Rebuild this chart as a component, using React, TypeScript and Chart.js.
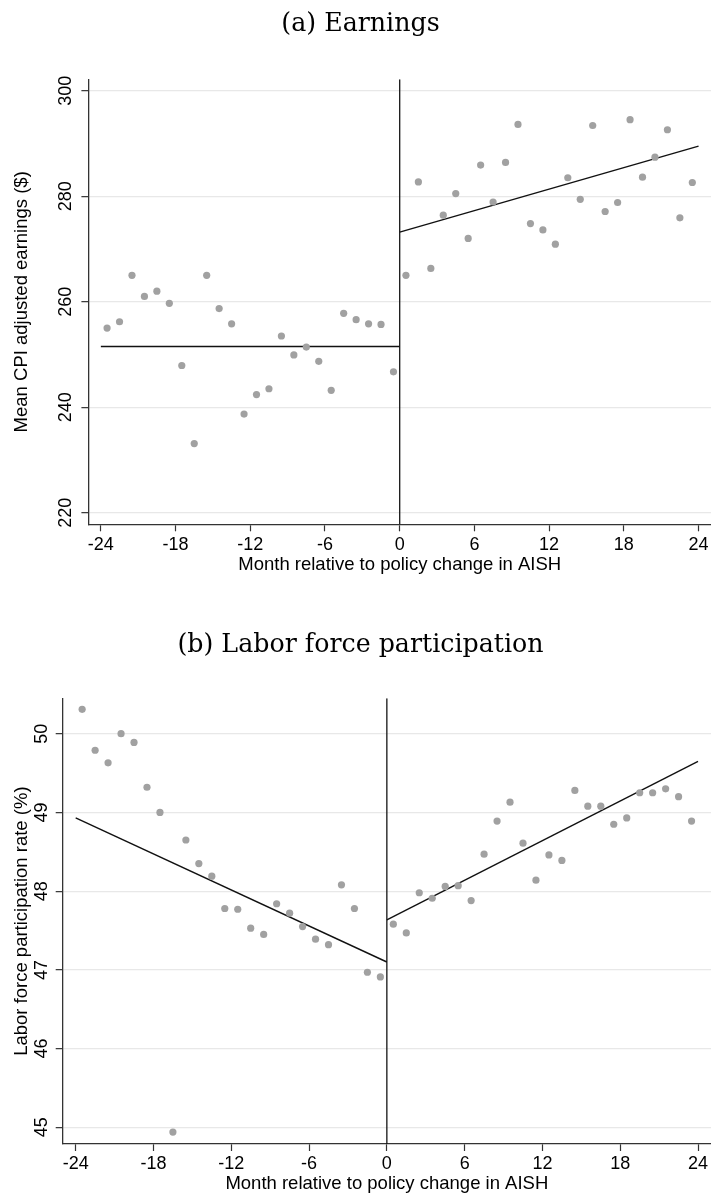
import React, { useEffect, useRef } from 'react';
import { Chart, registerables, ScatterController } from 'chart.js';

Chart.register(...registerables);
// keep the plot flush with the canvas edge (no extra padding for point overflow)
(ScatterController.prototype as any).getMaxOverflow = function () {
  return 0;
};

// ---------- data ----------
const MONTHS = [
  -23.5, -22.5, -21.5, -20.5, -19.5, -18.5, -17.5, -16.5, -15.5, -14.5, -13.5, -12.5,
  -11.5, -10.5, -9.5, -8.5, -7.5, -6.5, -5.5, -4.5, -3.5, -2.5, -1.5, -0.5,
  0.5, 1.5, 2.5, 3.5, 4.5, 5.5, 6.5, 7.5, 8.5, 9.5, 10.5, 11.5,
  12.5, 13.5, 14.5, 15.5, 16.5, 17.5, 18.5, 19.5, 20.5, 21.5, 22.5, 23.5,
];

const EARNINGS = [
  255.0, 256.2, 265.0, 261.0, 262.0, 259.7, 247.9, 233.1, 265.0, 258.7, 255.8, 238.7,
  242.4, 243.5, 253.5, 249.9, 251.4, 248.7, 243.2, 257.8, 256.6, 255.8, 255.7, 246.7,
  265.0, 282.7, 266.3, 276.4, 280.5, 272.0, 285.9, 278.9, 286.4, 293.6, 274.8, 273.6,
  270.9, 283.5, 279.4, 293.4, 277.1, 278.8, 294.5, 283.6, 287.4, 292.6, 275.9, 282.6,
];

const LFP = [
  50.31, 49.79, 49.63, 50.0, 49.89, 49.32, 49.0, 44.94, 48.65, 48.35, 48.19, 47.78,
  47.77, 47.53, 47.45, 47.84, 47.72, 47.55, 47.39, 47.32, 48.08, 47.78, 46.97, 46.91,
  47.58, 47.47, 47.98, 47.91, 48.06, 48.07, 47.88, 48.47, 48.89, 49.13, 48.61, 48.14,
  48.46, 48.39, 49.28, 49.08, 49.08, 48.85, 48.93, 49.25, 49.25, 49.3, 49.2, 48.89,
];

const FIT_PRE_X = [-24, 0];
const FIT_POST_X = [0, 24];
const EARN_FIT_PRE = [251.5, 251.5];
const EARN_FIT_POST = [273.2, 289.5];
const LFP_FIT_PRE = [48.93, 47.1];
const LFP_FIT_POST = [47.635, 49.65];

const X_TICKS = [-24, -18, -12, -6, 0, 6, 12, 18, 24];
const EARN_Y_TICKS = [220, 240, 260, 280, 300];
const LFP_Y_TICKS = [45, 46, 47, 48, 49, 50];

const X_TITLE = 'Month relative to policy change in AISH';
const EARN_TITLE = '(a) Earnings';
const LFP_TITLE = '(b) Labor force participation';
const EARN_Y_TITLE = 'Mean CPI adjusted earnings ($)';
const LFP_Y_TITLE = 'Labor force participation rate (%)';

// ---------- styling ----------
const SANS = "'Liberation Sans', Arial, Helvetica, sans-serif";
const SERIF = "'DejaVu Serif', 'Liberation Serif', serif";
const AXIS_COLOR = '#333333';
const GRID_COLOR = '#e8e8e8';
const POINT_COLOR = '#a1a1a1';
const CANVAS_W = 721;
const VIEW_W = 711;
const PAD_L = 10;

type Spec = {
  title: string;
  yTitle: string;
  values: number[];
  fitPre: number[];
  fitPost: number[];
  yTicks: number[];
  yMin: number;
  yMax: number;
  yWidth: number;
  yTickPad: number;
  xHeight: number;
  xTickPad: number;
  xTitlePad: number;
  titlePadTop: number;
  titlePadBottom: number;
};

function makeConfig(s: Spec): any {
  const pts = MONTHS.map((m, i) => ({ x: m, y: s.values[i] }));
  const pre = FIT_PRE_X.map((m, i) => ({ x: m, y: s.fitPre[i] }));
  const post = FIT_POST_X.map((m, i) => ({ x: m, y: s.fitPost[i] }));
  const vline = [
    { x: 0, y: s.yMin },
    { x: 0, y: s.yMax },
  ];
  return {
    type: 'scatter',
    data: {
      datasets: [
        {
          data: vline,
          showLine: true,
          borderColor: '#151515',
          borderWidth: 1.3,
          pointRadius: 0,
        },
        {
          data: pts,
          showLine: false,
          pointRadius: 3.6,
          pointBackgroundColor: POINT_COLOR,
          pointBorderColor: POINT_COLOR,
          pointBorderWidth: 0,
        },
        {
          data: pre,
          showLine: true,
          borderColor: '#111111',
          borderWidth: 1.4,
          pointRadius: 0,
        },
        {
          data: post,
          showLine: true,
          borderColor: '#111111',
          borderWidth: 1.4,
          pointRadius: 0,
        },
      ],
    },
    options: {
      responsive: false,
      animation: false,
      devicePixelRatio: 1,
      layout: { padding: { left: PAD_L, top: 0, bottom: 0, right: CANVAS_W - VIEW_W } },
      plugins: {
        legend: { display: false },
        tooltip: { enabled: false },
        title: {
          display: true,
          text: s.title,
          color: '#000000',
          font: { family: SERIF, size: 25.3, weight: 'normal' },
          padding: { top: s.titlePadTop, bottom: s.titlePadBottom },
        },
      },
      scales: {
        x: {
          type: 'linear',
          min: -25,
          max: 25,
          afterBuildTicks: (scale: any) => {
            scale.ticks = X_TICKS.map((v) => ({ value: v }));
          },
          afterFit: (scale: any) => {
            scale.height = s.xHeight;
            scale.paddingLeft = 0;
            scale.paddingRight = 0;
          },
          border: { display: true, color: AXIS_COLOR, width: 1.3 },
          grid: {
            display: true,
            drawOnChartArea: false,
            drawTicks: true,
            tickLength: 7,
            tickColor: AXIS_COLOR,
            tickWidth: 1.2,
          },
          ticks: {
            color: '#000000',
            font: { family: SANS, size: 18 },
            padding: s.xTickPad,
            maxRotation: 0,
            minRotation: 0,
            autoSkip: false,
            callback: (v: any) => String(v),
          },
          title: {
            display: true,
            text: X_TITLE,
            color: '#000000',
            font: { family: SANS, size: 18.5 },
            padding: { top: 0, bottom: s.xTitlePad },
          },
        },
        y: {
          type: 'linear',
          min: s.yMin,
          max: s.yMax,
          afterBuildTicks: (scale: any) => {
            scale.ticks = s.yTicks.map((v) => ({ value: v }));
          },
          afterFit: (scale: any) => {
            scale.width = s.yWidth - PAD_L;
            scale.paddingTop = 0;
            scale.paddingBottom = 0;
          },
          border: { display: true, color: AXIS_COLOR, width: 1.3 },
          grid: {
            display: true,
            drawOnChartArea: true,
            color: GRID_COLOR,
            lineWidth: 1.3,
            drawTicks: true,
            tickLength: 7,
            tickColor: AXIS_COLOR,
            tickWidth: 1.2,
          },
          ticks: {
            color: '#000000',
            font: { family: SANS, size: 18 },
            padding: s.yTickPad,
            minRotation: 90,
            maxRotation: 90,
            crossAlign: 'center',
            autoSkip: false,
            callback: (v: any) => String(v),
          },
          title: {
            display: true,
            text: s.yTitle,
            color: '#000000',
            font: { family: SANS, size: 18.5 },
            padding: { top: 11 - PAD_L, bottom: 0 },
          },
        },
      },
    },
  };
}

function ChartCanvas({ spec, width, height }: { spec: Spec; width: number; height: number }) {
  const ref = useRef<HTMLCanvasElement | null>(null);
  useEffect(() => {
    if (!ref.current) return;
    const chart = new Chart(ref.current, makeConfig(spec));
    return () => chart.destroy();
  }, []);
  return (
    <canvas
      ref={ref}
      width={width}
      height={height}
      style={{ display: 'block', width: width + 'px', height: height + 'px' }}
    />
  );
}

const TOP_SPEC: Spec = {
  title: EARN_TITLE,
  yTitle: EARN_Y_TITLE,
  values: EARNINGS,
  fitPre: EARN_FIT_PRE,
  fitPost: EARN_FIT_POST,
  yTicks: EARN_Y_TICKS,
  yMin: 217.8,
  yMax: 302.16,
  yWidth: 88.4,
  yTickPad: 0,
  xHeight: 55.7,
  xTickPad: 3.3,
  xTitlePad: 3.6,
  titlePadTop: 9.2,
  titlePadBottom: 39.74,
};

const BOTTOM_SPEC: Spec = {
  title: LFP_TITLE,
  yTitle: LFP_Y_TITLE,
  values: LFP,
  fitPre: LFP_FIT_PRE,
  fitPost: LFP_FIT_POST,
  yTicks: LFP_Y_TICKS,
  yMin: 44.788,
  yMax: 50.45,
  yWidth: 62.7,
  yTickPad: 4,
  xHeight: 52,
  xTickPad: 2.6,
  xTitlePad: 1,
  titlePadTop: 50.3,
  titlePadBottom: 37.64,
};

export default function App() {
  useEffect(() => {
    document.body.style.margin = '0';
  }, []);
  return (
    <div
      style={{
        position: 'absolute',
        left: 0,
        top: 0,
        width: VIEW_W,
        overflow: 'hidden',
        background: '#ffffff',
      }}
    >
      <ChartCanvas spec={TOP_SPEC} width={CANVAS_W} height={580} />
      <ChartCanvas spec={BOTTOM_SPEC} width={CANVAS_W} height={616} />
    </div>
  );
}
